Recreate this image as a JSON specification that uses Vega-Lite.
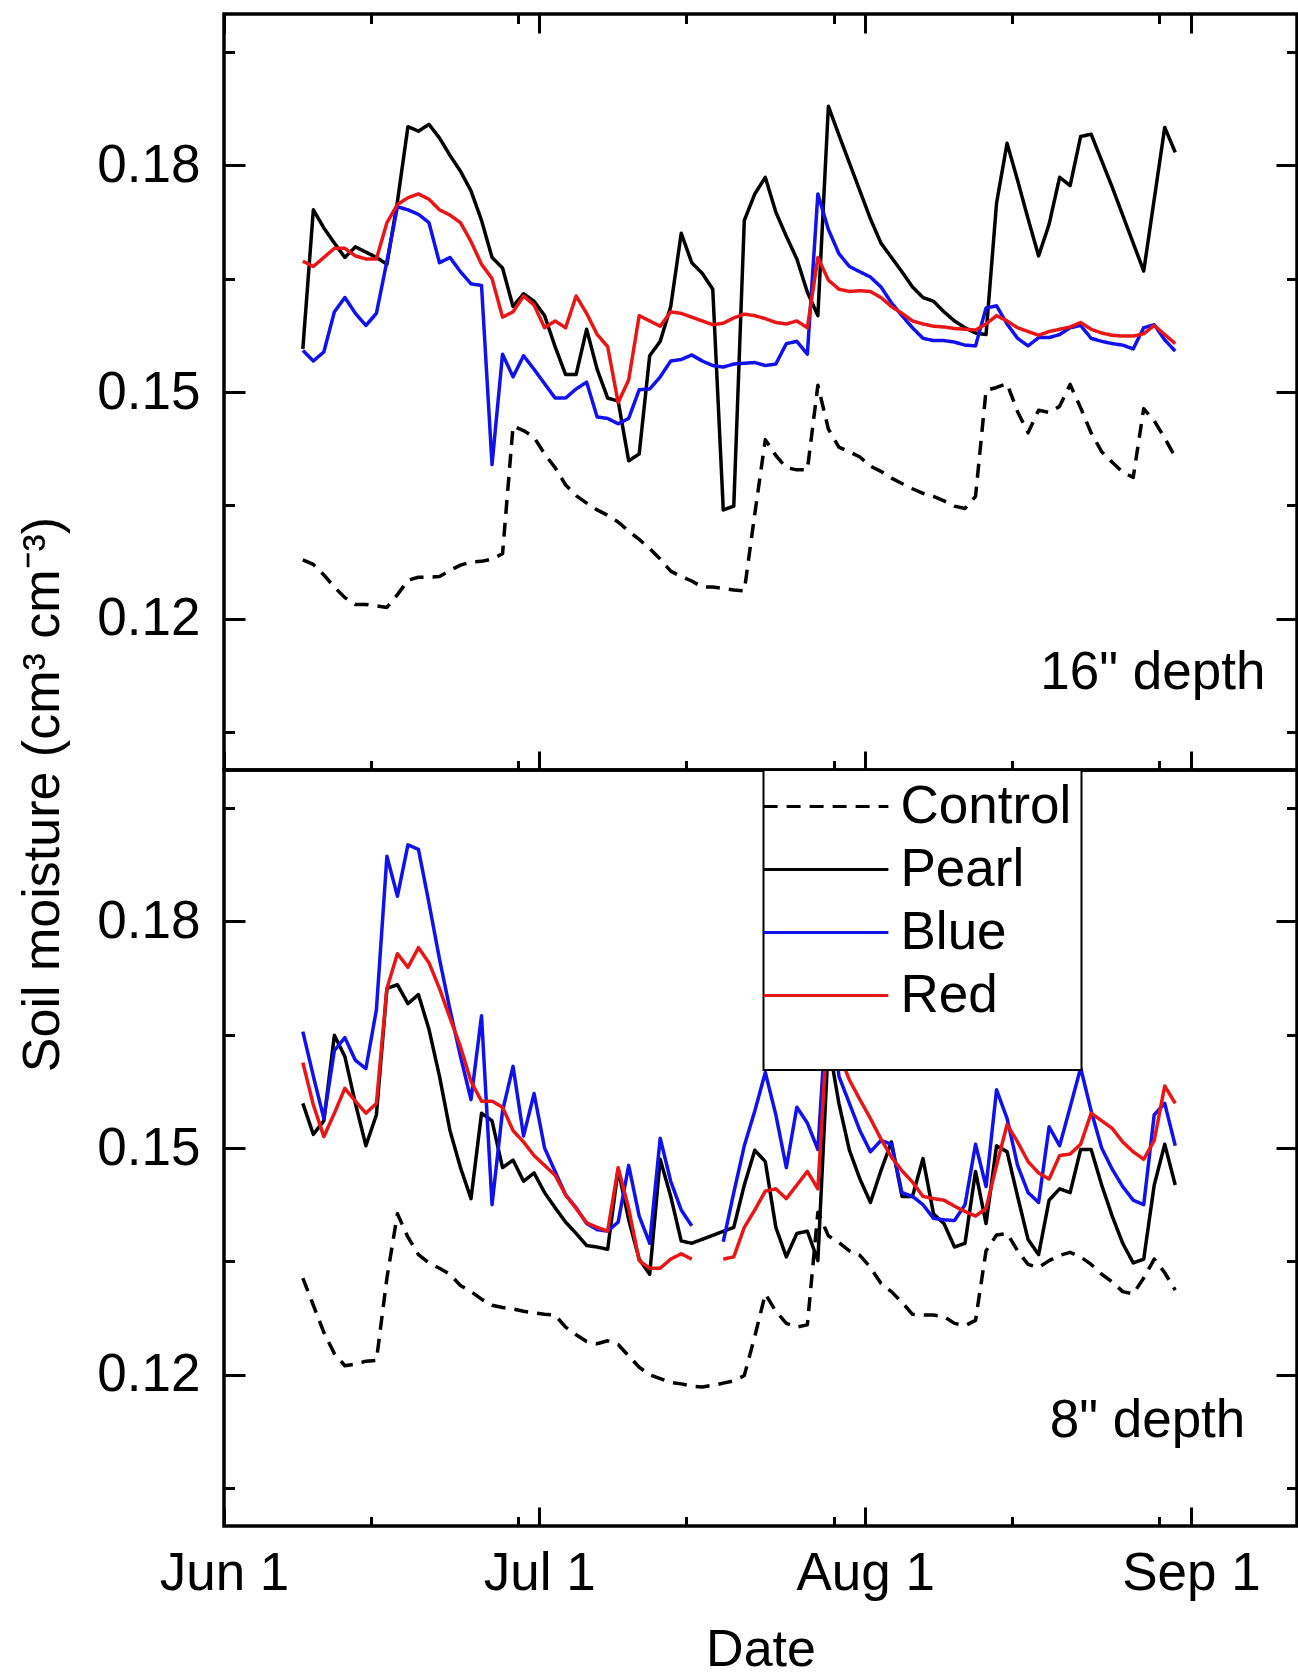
{
"$schema":"https://vega.github.io/schema/vega-lite/v6.json",
"padding":{"left":14,"top":10,"right":0,"bottom":0},
"background":"white",
"spacing":0,
"bounds":"flush",
"config":{
 "font":"Liberation Sans",
 "view":{"stroke":"#000000","strokeWidth":3.5},
 "axis":{"domain":false,"grid":false,"tickColor":"#000000","tickWidth":3,"tickCap":"butt","labelColor":"#000000","titleColor":"#000000","labelFontSize":53,"titleFontSize":52,"titleFontWeight":"normal","labelFlush":false,"labelOverlap":false,"labelBound":false,"labelFont":"Liberation Sans","titleFont":"Liberation Sans"},
 "legend":{"strokeWidth":2}
},
"resolve":{"legend":{"color":"independent","strokeDash":"independent"}},
"datasets":{
"d16":[
{"series":"Control","date":"2019-06-08T12:00","value":0.1278},{"series":"Control","date":"2019-06-09T12:00","value":0.1272},{"series":"Control","date":"2019-06-10T12:00","value":0.1258},{"series":"Control","date":"2019-06-11T12:00","value":0.1242},{"series":"Control","date":"2019-06-12T12:00","value":0.1228},{"series":"Control","date":"2019-06-13T12:00","value":0.1219},{"series":"Control","date":"2019-06-14T12:00","value":0.1219},{"series":"Control","date":"2019-06-15T12:00","value":0.1217},{"series":"Control","date":"2019-06-16T12:00","value":0.1215},{"series":"Control","date":"2019-06-17T12:00","value":0.1232},
{"series":"Control","date":"2019-06-18T12:00","value":0.1251},{"series":"Control","date":"2019-06-19T12:00","value":0.1255},{"series":"Control","date":"2019-06-20T12:00","value":0.1255},{"series":"Control","date":"2019-06-21T12:00","value":0.1256},{"series":"Control","date":"2019-06-22T12:00","value":0.1264},{"series":"Control","date":"2019-06-23T12:00","value":0.1271},{"series":"Control","date":"2019-06-24T12:00","value":0.1275},{"series":"Control","date":"2019-06-25T12:00","value":0.1276},{"series":"Control","date":"2019-06-26T12:00","value":0.1279},{"series":"Control","date":"2019-06-27T12:00","value":0.1286},
{"series":"Control","date":"2019-06-28T12:00","value":0.1455},{"series":"Control","date":"2019-06-29T12:00","value":0.1449},{"series":"Control","date":"2019-06-30T12:00","value":0.1440},{"series":"Control","date":"2019-07-01T12:00","value":0.1418},{"series":"Control","date":"2019-07-02T12:00","value":0.1400},{"series":"Control","date":"2019-07-03T12:00","value":0.1377},{"series":"Control","date":"2019-07-04T12:00","value":0.1363},{"series":"Control","date":"2019-07-05T12:00","value":0.1353},{"series":"Control","date":"2019-07-06T12:00","value":0.1344},{"series":"Control","date":"2019-07-07T12:00","value":0.1337},
{"series":"Control","date":"2019-07-08T12:00","value":0.1328},{"series":"Control","date":"2019-07-09T12:00","value":0.1316},{"series":"Control","date":"2019-07-10T12:00","value":0.1305},{"series":"Control","date":"2019-07-11T12:00","value":0.1293},{"series":"Control","date":"2019-07-12T12:00","value":0.1279},{"series":"Control","date":"2019-07-13T12:00","value":0.1263},{"series":"Control","date":"2019-07-14T12:00","value":0.1256},{"series":"Control","date":"2019-07-15T12:00","value":0.1250},{"series":"Control","date":"2019-07-16T12:00","value":0.1242},{"series":"Control","date":"2019-07-17T12:00","value":0.1242},
{"series":"Control","date":"2019-07-18T12:00","value":0.1240},{"series":"Control","date":"2019-07-19T12:00","value":0.1238},{"series":"Control","date":"2019-07-20T12:00","value":0.1237},{"series":"Control","date":"2019-07-21T12:00","value":0.1339},{"series":"Control","date":"2019-07-22T12:00","value":0.1437},{"series":"Control","date":"2019-07-23T12:00","value":0.1416},{"series":"Control","date":"2019-07-24T12:00","value":0.1400},{"series":"Control","date":"2019-07-25T12:00","value":0.1397},{"series":"Control","date":"2019-07-26T12:00","value":0.1397},{"series":"Control","date":"2019-07-27T12:00","value":0.1509},
{"series":"Control","date":"2019-07-28T12:00","value":0.1451},{"series":"Control","date":"2019-07-29T12:00","value":0.1427},{"series":"Control","date":"2019-07-30T12:00","value":0.1421},{"series":"Control","date":"2019-07-31T12:00","value":0.1414},{"series":"Control","date":"2019-08-01T12:00","value":0.1402},{"series":"Control","date":"2019-08-02T12:00","value":0.1395},{"series":"Control","date":"2019-08-03T12:00","value":0.1386},{"series":"Control","date":"2019-08-04T12:00","value":0.1379},{"series":"Control","date":"2019-08-05T12:00","value":0.1372},{"series":"Control","date":"2019-08-06T12:00","value":0.1366},
{"series":"Control","date":"2019-08-07T12:00","value":0.1362},{"series":"Control","date":"2019-08-08T12:00","value":0.1356},{"series":"Control","date":"2019-08-09T12:00","value":0.1349},{"series":"Control","date":"2019-08-10T12:00","value":0.1346},{"series":"Control","date":"2019-08-11T12:00","value":0.1362},{"series":"Control","date":"2019-08-12T12:00","value":0.1502},{"series":"Control","date":"2019-08-13T12:00","value":0.1506},{"series":"Control","date":"2019-08-14T12:00","value":0.1511},{"series":"Control","date":"2019-08-15T12:00","value":0.1474},{"series":"Control","date":"2019-08-16T12:00","value":0.1446},
{"series":"Control","date":"2019-08-17T12:00","value":0.1476},{"series":"Control","date":"2019-08-18T12:00","value":0.1473},{"series":"Control","date":"2019-08-19T12:00","value":0.1481},{"series":"Control","date":"2019-08-20T12:00","value":0.1510},{"series":"Control","date":"2019-08-21T12:00","value":0.1479},{"series":"Control","date":"2019-08-22T12:00","value":0.1446},{"series":"Control","date":"2019-08-23T12:00","value":0.1421},{"series":"Control","date":"2019-08-24T12:00","value":0.1407},{"series":"Control","date":"2019-08-25T12:00","value":0.1394},{"series":"Control","date":"2019-08-26T12:00","value":0.1387},
{"series":"Control","date":"2019-08-27T12:00","value":0.1478},{"series":"Control","date":"2019-08-28T12:00","value":0.1462},{"series":"Control","date":"2019-08-29T12:00","value":0.1439},{"series":"Control","date":"2019-08-30T12:00","value":0.1414},
{"series":"Pearl","date":"2019-06-08T12:00","value":0.1557},{"series":"Pearl","date":"2019-06-09T12:00","value":0.1741},{"series":"Pearl","date":"2019-06-10T12:00","value":0.1717},{"series":"Pearl","date":"2019-06-11T12:00","value":0.1697},{"series":"Pearl","date":"2019-06-12T12:00","value":0.1678},{"series":"Pearl","date":"2019-06-13T12:00","value":0.1692},{"series":"Pearl","date":"2019-06-14T12:00","value":0.1685},{"series":"Pearl","date":"2019-06-15T12:00","value":0.1678},{"series":"Pearl","date":"2019-06-16T12:00","value":0.1669},{"series":"Pearl","date":"2019-06-17T12:00","value":0.1752},
{"series":"Pearl","date":"2019-06-18T12:00","value":0.1851},{"series":"Pearl","date":"2019-06-19T12:00","value":0.1845},{"series":"Pearl","date":"2019-06-20T12:00","value":0.1854},{"series":"Pearl","date":"2019-06-21T12:00","value":0.1836},{"series":"Pearl","date":"2019-06-22T12:00","value":0.1813},{"series":"Pearl","date":"2019-06-23T12:00","value":0.1792},{"series":"Pearl","date":"2019-06-24T12:00","value":0.1766},{"series":"Pearl","date":"2019-06-25T12:00","value":0.1727},{"series":"Pearl","date":"2019-06-26T12:00","value":0.1678},{"series":"Pearl","date":"2019-06-27T12:00","value":0.1664},
{"series":"Pearl","date":"2019-06-28T12:00","value":0.1613},{"series":"Pearl","date":"2019-06-29T12:00","value":0.1630},{"series":"Pearl","date":"2019-06-30T12:00","value":0.1620},{"series":"Pearl","date":"2019-07-01T12:00","value":0.1601},{"series":"Pearl","date":"2019-07-02T12:00","value":0.1560},{"series":"Pearl","date":"2019-07-03T12:00","value":0.1523},{"series":"Pearl","date":"2019-07-04T12:00","value":0.1523},{"series":"Pearl","date":"2019-07-05T12:00","value":0.1583},{"series":"Pearl","date":"2019-07-06T12:00","value":0.1530},{"series":"Pearl","date":"2019-07-07T12:00","value":0.1492},
{"series":"Pearl","date":"2019-07-08T12:00","value":0.1488},{"series":"Pearl","date":"2019-07-09T12:00","value":0.1409},{"series":"Pearl","date":"2019-07-10T12:00","value":0.1418},{"series":"Pearl","date":"2019-07-11T12:00","value":0.1548},{"series":"Pearl","date":"2019-07-12T12:00","value":0.1567},{"series":"Pearl","date":"2019-07-13T12:00","value":0.1613},{"series":"Pearl","date":"2019-07-14T12:00","value":0.1710},{"series":"Pearl","date":"2019-07-15T12:00","value":0.1671},{"series":"Pearl","date":"2019-07-16T12:00","value":0.1657},{"series":"Pearl","date":"2019-07-17T12:00","value":0.1636},
{"series":"Pearl","date":"2019-07-18T12:00","value":0.1344},{"series":"Pearl","date":"2019-07-19T12:00","value":0.1349},{"series":"Pearl","date":"2019-07-20T12:00","value":0.1727},{"series":"Pearl","date":"2019-07-21T12:00","value":0.1762},{"series":"Pearl","date":"2019-07-22T12:00","value":0.1784},{"series":"Pearl","date":"2019-07-23T12:00","value":0.1738},{"series":"Pearl","date":"2019-07-24T12:00","value":0.1706},{"series":"Pearl","date":"2019-07-25T12:00","value":0.1676},{"series":"Pearl","date":"2019-07-26T12:00","value":0.1632},{"series":"Pearl","date":"2019-07-27T12:00","value":0.1601},
{"series":"Pearl","date":"2019-07-28T12:00","value":0.1878},{"series":"Pearl","date":"2019-07-29T12:00","value":0.1840},{"series":"Pearl","date":"2019-07-30T12:00","value":0.1803},{"series":"Pearl","date":"2019-07-31T12:00","value":0.1766},{"series":"Pearl","date":"2019-08-01T12:00","value":0.1729},{"series":"Pearl","date":"2019-08-02T12:00","value":0.1697},{"series":"Pearl","date":"2019-08-03T12:00","value":0.1678},{"series":"Pearl","date":"2019-08-04T12:00","value":0.1659},{"series":"Pearl","date":"2019-08-05T12:00","value":0.1639},{"series":"Pearl","date":"2019-08-06T12:00","value":0.1625},
{"series":"Pearl","date":"2019-08-07T12:00","value":0.1620},{"series":"Pearl","date":"2019-08-08T12:00","value":0.1606},{"series":"Pearl","date":"2019-08-09T12:00","value":0.1594},{"series":"Pearl","date":"2019-08-10T12:00","value":0.1585},{"series":"Pearl","date":"2019-08-11T12:00","value":0.1578},{"series":"Pearl","date":"2019-08-12T12:00","value":0.1576},{"series":"Pearl","date":"2019-08-13T12:00","value":0.1750},{"series":"Pearl","date":"2019-08-14T12:00","value":0.1829},{"series":"Pearl","date":"2019-08-15T12:00","value":0.1780},{"series":"Pearl","date":"2019-08-16T12:00","value":0.1729},
{"series":"Pearl","date":"2019-08-17T12:00","value":0.1680},{"series":"Pearl","date":"2019-08-18T12:00","value":0.1722},{"series":"Pearl","date":"2019-08-19T12:00","value":0.1784},{"series":"Pearl","date":"2019-08-20T12:00","value":0.1773},{"series":"Pearl","date":"2019-08-21T12:00","value":0.1838},{"series":"Pearl","date":"2019-08-22T12:00","value":0.1841},{"series":"Pearl","date":"2019-08-23T12:00","value":0.1806},{"series":"Pearl","date":"2019-08-24T12:00","value":0.1771},{"series":"Pearl","date":"2019-08-25T12:00","value":0.1734},{"series":"Pearl","date":"2019-08-26T12:00","value":0.1697},
{"series":"Pearl","date":"2019-08-27T12:00","value":0.1660},{"series":"Pearl","date":"2019-08-28T12:00","value":0.1755},{"series":"Pearl","date":"2019-08-29T12:00","value":0.1850},{"series":"Pearl","date":"2019-08-30T12:00","value":0.1817},
{"series":"Blue","date":"2019-06-08T12:00","value":0.1555},{"series":"Blue","date":"2019-06-09T12:00","value":0.1541},{"series":"Blue","date":"2019-06-10T12:00","value":0.1553},{"series":"Blue","date":"2019-06-11T12:00","value":0.1606},{"series":"Blue","date":"2019-06-12T12:00","value":0.1625},{"series":"Blue","date":"2019-06-13T12:00","value":0.1604},{"series":"Blue","date":"2019-06-14T12:00","value":0.1588},{"series":"Blue","date":"2019-06-15T12:00","value":0.1604},{"series":"Blue","date":"2019-06-16T12:00","value":0.1673},{"series":"Blue","date":"2019-06-17T12:00","value":0.1745},
{"series":"Blue","date":"2019-06-18T12:00","value":0.1741},{"series":"Blue","date":"2019-06-19T12:00","value":0.1735},{"series":"Blue","date":"2019-06-20T12:00","value":0.1724},{"series":"Blue","date":"2019-06-21T12:00","value":0.1671},{"series":"Blue","date":"2019-06-22T12:00","value":0.1678},{"series":"Blue","date":"2019-06-23T12:00","value":0.1659},{"series":"Blue","date":"2019-06-24T12:00","value":0.1643},{"series":"Blue","date":"2019-06-25T12:00","value":0.1641},{"series":"Blue","date":"2019-06-26T12:00","value":0.1404},{"series":"Blue","date":"2019-06-27T12:00","value":0.1550},
{"series":"Blue","date":"2019-06-28T12:00","value":0.1520},{"series":"Blue","date":"2019-06-29T12:00","value":0.1548},{"series":"Blue","date":"2019-06-30T12:00","value":0.1530},{"series":"Blue","date":"2019-07-01T12:00","value":0.1511},{"series":"Blue","date":"2019-07-02T12:00","value":0.1492},{"series":"Blue","date":"2019-07-03T12:00","value":0.1492},{"series":"Blue","date":"2019-07-04T12:00","value":0.1504},{"series":"Blue","date":"2019-07-05T12:00","value":0.1513},{"series":"Blue","date":"2019-07-06T12:00","value":0.1467},{"series":"Blue","date":"2019-07-07T12:00","value":0.1465},
{"series":"Blue","date":"2019-07-08T12:00","value":0.1458},{"series":"Blue","date":"2019-07-09T12:00","value":0.1465},{"series":"Blue","date":"2019-07-10T12:00","value":0.1503},{"series":"Blue","date":"2019-07-11T12:00","value":0.1504},{"series":"Blue","date":"2019-07-12T12:00","value":0.1520},{"series":"Blue","date":"2019-07-13T12:00","value":0.1541},{"series":"Blue","date":"2019-07-14T12:00","value":0.1543},{"series":"Blue","date":"2019-07-15T12:00","value":0.1549},{"series":"Blue","date":"2019-07-16T12:00","value":0.1541},{"series":"Blue","date":"2019-07-17T12:00","value":0.1535},
{"series":"Blue","date":"2019-07-18T12:00","value":0.1533},{"series":"Blue","date":"2019-07-19T12:00","value":0.1537},{"series":"Blue","date":"2019-07-20T12:00","value":0.1538},{"series":"Blue","date":"2019-07-21T12:00","value":0.1539},{"series":"Blue","date":"2019-07-22T12:00","value":0.1535},{"series":"Blue","date":"2019-07-23T12:00","value":0.1537},{"series":"Blue","date":"2019-07-24T12:00","value":0.1564},{"series":"Blue","date":"2019-07-25T12:00","value":0.1567},{"series":"Blue","date":"2019-07-26T12:00","value":0.1550},{"series":"Blue","date":"2019-07-27T12:00","value":0.1762},
{"series":"Blue","date":"2019-07-28T12:00","value":0.1715},{"series":"Blue","date":"2019-07-29T12:00","value":0.1683},{"series":"Blue","date":"2019-07-30T12:00","value":0.1666},{"series":"Blue","date":"2019-07-31T12:00","value":0.1659},{"series":"Blue","date":"2019-08-01T12:00","value":0.1652},{"series":"Blue","date":"2019-08-02T12:00","value":0.1639},{"series":"Blue","date":"2019-08-03T12:00","value":0.1618},{"series":"Blue","date":"2019-08-04T12:00","value":0.1601},{"series":"Blue","date":"2019-08-05T12:00","value":0.1585},{"series":"Blue","date":"2019-08-06T12:00","value":0.1571},
{"series":"Blue","date":"2019-08-07T12:00","value":0.1568},{"series":"Blue","date":"2019-08-08T12:00","value":0.1568},{"series":"Blue","date":"2019-08-09T12:00","value":0.1566},{"series":"Blue","date":"2019-08-10T12:00","value":0.1562},{"series":"Blue","date":"2019-08-11T12:00","value":0.1561},{"series":"Blue","date":"2019-08-12T12:00","value":0.1611},{"series":"Blue","date":"2019-08-13T12:00","value":0.1614},{"series":"Blue","date":"2019-08-14T12:00","value":0.1590},{"series":"Blue","date":"2019-08-15T12:00","value":0.1571},{"series":"Blue","date":"2019-08-16T12:00","value":0.1561},
{"series":"Blue","date":"2019-08-17T12:00","value":0.1572},{"series":"Blue","date":"2019-08-18T12:00","value":0.1572},{"series":"Blue","date":"2019-08-19T12:00","value":0.1576},{"series":"Blue","date":"2019-08-20T12:00","value":0.1585},{"series":"Blue","date":"2019-08-21T12:00","value":0.1588},{"series":"Blue","date":"2019-08-22T12:00","value":0.1571},{"series":"Blue","date":"2019-08-23T12:00","value":0.1567},{"series":"Blue","date":"2019-08-24T12:00","value":0.1564},{"series":"Blue","date":"2019-08-25T12:00","value":0.1562},{"series":"Blue","date":"2019-08-26T12:00","value":0.1557},
{"series":"Blue","date":"2019-08-27T12:00","value":0.1585},{"series":"Blue","date":"2019-08-28T12:00","value":0.1589},{"series":"Blue","date":"2019-08-29T12:00","value":0.1569},{"series":"Blue","date":"2019-08-30T12:00","value":0.1554},
{"series":"Red","date":"2019-06-08T12:00","value":0.1673},{"series":"Red","date":"2019-06-09T12:00","value":0.1666},{"series":"Red","date":"2019-06-10T12:00","value":0.1678},{"series":"Red","date":"2019-06-11T12:00","value":0.1690},{"series":"Red","date":"2019-06-12T12:00","value":0.1690},{"series":"Red","date":"2019-06-13T12:00","value":0.1680},{"series":"Red","date":"2019-06-14T12:00","value":0.1676},{"series":"Red","date":"2019-06-15T12:00","value":0.1676},{"series":"Red","date":"2019-06-16T12:00","value":0.1724},{"series":"Red","date":"2019-06-17T12:00","value":0.1748},
{"series":"Red","date":"2019-06-18T12:00","value":0.1757},{"series":"Red","date":"2019-06-19T12:00","value":0.1762},{"series":"Red","date":"2019-06-20T12:00","value":0.1755},{"series":"Red","date":"2019-06-21T12:00","value":0.1741},{"series":"Red","date":"2019-06-22T12:00","value":0.1734},{"series":"Red","date":"2019-06-23T12:00","value":0.1724},{"series":"Red","date":"2019-06-24T12:00","value":0.1699},{"series":"Red","date":"2019-06-25T12:00","value":0.1669},{"series":"Red","date":"2019-06-26T12:00","value":0.1650},{"series":"Red","date":"2019-06-27T12:00","value":0.1599},
{"series":"Red","date":"2019-06-28T12:00","value":0.1606},{"series":"Red","date":"2019-06-29T12:00","value":0.1627},{"series":"Red","date":"2019-06-30T12:00","value":0.1615},{"series":"Red","date":"2019-07-01T12:00","value":0.1585},{"series":"Red","date":"2019-07-02T12:00","value":0.1594},{"series":"Red","date":"2019-07-03T12:00","value":0.1585},{"series":"Red","date":"2019-07-04T12:00","value":0.1627},{"series":"Red","date":"2019-07-05T12:00","value":0.1604},{"series":"Red","date":"2019-07-06T12:00","value":0.1576},{"series":"Red","date":"2019-07-07T12:00","value":0.1560},
{"series":"Red","date":"2019-07-08T12:00","value":0.1486},{"series":"Red","date":"2019-07-09T12:00","value":0.1516},{"series":"Red","date":"2019-07-10T12:00","value":0.1601},{"series":"Red","date":"2019-07-11T12:00","value":0.1594},{"series":"Red","date":"2019-07-12T12:00","value":0.1587},{"series":"Red","date":"2019-07-13T12:00","value":0.1606},{"series":"Red","date":"2019-07-14T12:00","value":0.1604},{"series":"Red","date":"2019-07-15T12:00","value":0.1599},{"series":"Red","date":"2019-07-16T12:00","value":0.1594},{"series":"Red","date":"2019-07-17T12:00","value":0.1589},
{"series":"Red","date":"2019-07-18T12:00","value":0.1591},{"series":"Red","date":"2019-07-19T12:00","value":0.1598},{"series":"Red","date":"2019-07-20T12:00","value":0.1603},{"series":"Red","date":"2019-07-21T12:00","value":0.1601},{"series":"Red","date":"2019-07-22T12:00","value":0.1597},{"series":"Red","date":"2019-07-23T12:00","value":0.1592},{"series":"Red","date":"2019-07-24T12:00","value":0.1590},{"series":"Red","date":"2019-07-25T12:00","value":0.1594},{"series":"Red","date":"2019-07-26T12:00","value":0.1585},{"series":"Red","date":"2019-07-27T12:00","value":0.1678},
{"series":"Red","date":"2019-07-28T12:00","value":0.1648},{"series":"Red","date":"2019-07-29T12:00","value":0.1636},{"series":"Red","date":"2019-07-30T12:00","value":0.1633},{"series":"Red","date":"2019-07-31T12:00","value":0.1634},{"series":"Red","date":"2019-08-01T12:00","value":0.1633},{"series":"Red","date":"2019-08-02T12:00","value":0.1625},{"series":"Red","date":"2019-08-03T12:00","value":0.1613},{"series":"Red","date":"2019-08-04T12:00","value":0.1604},{"series":"Red","date":"2019-08-05T12:00","value":0.1594},{"series":"Red","date":"2019-08-06T12:00","value":0.1590},
{"series":"Red","date":"2019-08-07T12:00","value":0.1587},{"series":"Red","date":"2019-08-08T12:00","value":0.1586},{"series":"Red","date":"2019-08-09T12:00","value":0.1584},{"series":"Red","date":"2019-08-10T12:00","value":0.1583},{"series":"Red","date":"2019-08-11T12:00","value":0.1582},{"series":"Red","date":"2019-08-12T12:00","value":0.1590},{"series":"Red","date":"2019-08-13T12:00","value":0.1601},{"series":"Red","date":"2019-08-14T12:00","value":0.1594},{"series":"Red","date":"2019-08-15T12:00","value":0.1585},{"series":"Red","date":"2019-08-16T12:00","value":0.1580},
{"series":"Red","date":"2019-08-17T12:00","value":0.1575},{"series":"Red","date":"2019-08-18T12:00","value":0.1580},{"series":"Red","date":"2019-08-19T12:00","value":0.1583},{"series":"Red","date":"2019-08-20T12:00","value":0.1586},{"series":"Red","date":"2019-08-21T12:00","value":0.1592},{"series":"Red","date":"2019-08-22T12:00","value":0.1583},{"series":"Red","date":"2019-08-23T12:00","value":0.1578},{"series":"Red","date":"2019-08-24T12:00","value":0.1575},{"series":"Red","date":"2019-08-25T12:00","value":0.1574},{"series":"Red","date":"2019-08-26T12:00","value":0.1574},
{"series":"Red","date":"2019-08-27T12:00","value":0.1577},{"series":"Red","date":"2019-08-28T12:00","value":0.1588},{"series":"Red","date":"2019-08-29T12:00","value":0.1576},{"series":"Red","date":"2019-08-30T12:00","value":0.1564}
],
"d8":[
{"series":"Control","date":"2019-06-08T12:00","value":0.1328},{"series":"Control","date":"2019-06-09T12:00","value":0.1292},{"series":"Control","date":"2019-06-10T12:00","value":0.1256},{"series":"Control","date":"2019-06-11T12:00","value":0.1228},{"series":"Control","date":"2019-06-12T12:00","value":0.1212},{"series":"Control","date":"2019-06-13T12:00","value":0.1214},{"series":"Control","date":"2019-06-14T12:00","value":0.1218},{"series":"Control","date":"2019-06-15T12:00","value":0.1219},{"series":"Control","date":"2019-06-16T12:00","value":0.1328},{"series":"Control","date":"2019-06-17T12:00","value":0.1413},
{"series":"Control","date":"2019-06-18T12:00","value":0.1382},{"series":"Control","date":"2019-06-19T12:00","value":0.1359},{"series":"Control","date":"2019-06-20T12:00","value":0.1348},{"series":"Control","date":"2019-06-21T12:00","value":0.1341},{"series":"Control","date":"2019-06-22T12:00","value":0.1333},{"series":"Control","date":"2019-06-23T12:00","value":0.1318},{"series":"Control","date":"2019-06-24T12:00","value":0.1310},{"series":"Control","date":"2019-06-25T12:00","value":0.1300},{"series":"Control","date":"2019-06-26T12:00","value":0.1292},{"series":"Control","date":"2019-06-27T12:00","value":0.1289},
{"series":"Control","date":"2019-06-28T12:00","value":0.1287},{"series":"Control","date":"2019-06-29T12:00","value":0.1284},{"series":"Control","date":"2019-06-30T12:00","value":0.1282},{"series":"Control","date":"2019-07-01T12:00","value":0.1280},{"series":"Control","date":"2019-07-02T12:00","value":0.1279},{"series":"Control","date":"2019-07-03T12:00","value":0.1263},{"series":"Control","date":"2019-07-04T12:00","value":0.1253},{"series":"Control","date":"2019-07-05T12:00","value":0.1244},{"series":"Control","date":"2019-07-06T12:00","value":0.1241},{"series":"Control","date":"2019-07-07T12:00","value":0.1245},
{"series":"Control","date":"2019-07-08T12:00","value":0.1240},{"series":"Control","date":"2019-07-09T12:00","value":0.1225},{"series":"Control","date":"2019-07-10T12:00","value":0.1210},{"series":"Control","date":"2019-07-11T12:00","value":0.1200},{"series":"Control","date":"2019-07-12T12:00","value":0.1195},{"series":"Control","date":"2019-07-13T12:00","value":0.1190},{"series":"Control","date":"2019-07-14T12:00","value":0.1188},{"series":"Control","date":"2019-07-15T12:00","value":0.1185},{"series":"Control","date":"2019-07-16T12:00","value":0.1184},{"series":"Control","date":"2019-07-17T12:00","value":0.1186},
{"series":"Control","date":"2019-07-18T12:00","value":0.1189},{"series":"Control","date":"2019-07-19T12:00","value":0.1192},{"series":"Control","date":"2019-07-20T12:00","value":0.1199},{"series":"Control","date":"2019-07-21T12:00","value":0.1251},{"series":"Control","date":"2019-07-22T12:00","value":0.1307},{"series":"Control","date":"2019-07-23T12:00","value":0.1284},{"series":"Control","date":"2019-07-24T12:00","value":0.1268},{"series":"Control","date":"2019-07-25T12:00","value":0.1263},{"series":"Control","date":"2019-07-26T12:00","value":0.1266},{"series":"Control","date":"2019-07-27T12:00","value":0.1415},
{"series":"Control","date":"2019-07-28T12:00","value":0.1384},{"series":"Control","date":"2019-07-29T12:00","value":0.1375},{"series":"Control","date":"2019-07-30T12:00","value":0.1364},{"series":"Control","date":"2019-07-31T12:00","value":0.1358},{"series":"Control","date":"2019-08-01T12:00","value":0.1342},{"series":"Control","date":"2019-08-02T12:00","value":0.1321},{"series":"Control","date":"2019-08-03T12:00","value":0.1310},{"series":"Control","date":"2019-08-04T12:00","value":0.1296},{"series":"Control","date":"2019-08-05T12:00","value":0.1280},{"series":"Control","date":"2019-08-06T12:00","value":0.1279},
{"series":"Control","date":"2019-08-07T12:00","value":0.1279},{"series":"Control","date":"2019-08-08T12:00","value":0.1277},{"series":"Control","date":"2019-08-09T12:00","value":0.1268},{"series":"Control","date":"2019-08-10T12:00","value":0.1265},{"series":"Control","date":"2019-08-11T12:00","value":0.1272},{"series":"Control","date":"2019-08-12T12:00","value":0.1364},{"series":"Control","date":"2019-08-13T12:00","value":0.1385},{"series":"Control","date":"2019-08-14T12:00","value":0.1387},{"series":"Control","date":"2019-08-15T12:00","value":0.1364},{"series":"Control","date":"2019-08-16T12:00","value":0.1346},
{"series":"Control","date":"2019-08-17T12:00","value":0.1342},{"series":"Control","date":"2019-08-18T12:00","value":0.1351},{"series":"Control","date":"2019-08-19T12:00","value":0.1358},{"series":"Control","date":"2019-08-20T12:00","value":0.1362},{"series":"Control","date":"2019-08-21T12:00","value":0.1356},{"series":"Control","date":"2019-08-22T12:00","value":0.1346},{"series":"Control","date":"2019-08-23T12:00","value":0.1333},{"series":"Control","date":"2019-08-24T12:00","value":0.1323},{"series":"Control","date":"2019-08-25T12:00","value":0.1310},{"series":"Control","date":"2019-08-26T12:00","value":0.1307},
{"series":"Control","date":"2019-08-27T12:00","value":0.1328},{"series":"Control","date":"2019-08-28T12:00","value":0.1353},{"series":"Control","date":"2019-08-29T12:00","value":0.1335},{"series":"Control","date":"2019-08-30T12:00","value":0.1312},
{"series":"Pearl","date":"2019-06-08T12:00","value":0.1559},{"series":"Pearl","date":"2019-06-09T12:00","value":0.1518},{"series":"Pearl","date":"2019-06-10T12:00","value":0.1536},{"series":"Pearl","date":"2019-06-11T12:00","value":0.1649},{"series":"Pearl","date":"2019-06-12T12:00","value":0.1621},{"series":"Pearl","date":"2019-06-13T12:00","value":0.1559},{"series":"Pearl","date":"2019-06-14T12:00","value":0.1503},{"series":"Pearl","date":"2019-06-15T12:00","value":0.1544},{"series":"Pearl","date":"2019-06-16T12:00","value":0.1711},{"series":"Pearl","date":"2019-06-17T12:00","value":0.1716},
{"series":"Pearl","date":"2019-06-18T12:00","value":0.1691},{"series":"Pearl","date":"2019-06-19T12:00","value":0.1703},{"series":"Pearl","date":"2019-06-20T12:00","value":0.1657},{"series":"Pearl","date":"2019-06-21T12:00","value":0.1595},{"series":"Pearl","date":"2019-06-22T12:00","value":0.1523},{"series":"Pearl","date":"2019-06-23T12:00","value":0.1474},{"series":"Pearl","date":"2019-06-24T12:00","value":0.1433},{"series":"Pearl","date":"2019-06-25T12:00","value":0.1546},{"series":"Pearl","date":"2019-06-26T12:00","value":0.1536},{"series":"Pearl","date":"2019-06-27T12:00","value":0.1474},
{"series":"Pearl","date":"2019-06-28T12:00","value":0.1484},{"series":"Pearl","date":"2019-06-29T12:00","value":0.1456},{"series":"Pearl","date":"2019-06-30T12:00","value":0.1467},{"series":"Pearl","date":"2019-07-01T12:00","value":0.1441},{"series":"Pearl","date":"2019-07-02T12:00","value":0.1421},{"series":"Pearl","date":"2019-07-03T12:00","value":0.1402},{"series":"Pearl","date":"2019-07-04T12:00","value":0.1387},{"series":"Pearl","date":"2019-07-05T12:00","value":0.1371},{"series":"Pearl","date":"2019-07-06T12:00","value":0.1369},{"series":"Pearl","date":"2019-07-07T12:00","value":0.1366},
{"series":"Pearl","date":"2019-07-08T12:00","value":0.1472},{"series":"Pearl","date":"2019-07-09T12:00","value":0.1405},{"series":"Pearl","date":"2019-07-10T12:00","value":0.1353},{"series":"Pearl","date":"2019-07-11T12:00","value":0.1333},{"series":"Pearl","date":"2019-07-12T12:00","value":0.1485},{"series":"Pearl","date":"2019-07-13T12:00","value":0.1436},{"series":"Pearl","date":"2019-07-14T12:00","value":0.1377},{"series":"Pearl","date":"2019-07-15T12:00","value":0.1374},
{"series":"Pearl","date":"2019-07-19T12:00","value":0.1395},{"series":"Pearl","date":"2019-07-20T12:00","value":0.1451},{"series":"Pearl","date":"2019-07-21T12:00","value":0.1497},{"series":"Pearl","date":"2019-07-22T12:00","value":0.1482},{"series":"Pearl","date":"2019-07-23T12:00","value":0.1395},{"series":"Pearl","date":"2019-07-24T12:00","value":0.1356},{"series":"Pearl","date":"2019-07-25T12:00","value":0.1387},{"series":"Pearl","date":"2019-07-26T12:00","value":0.1390},{"series":"Pearl","date":"2019-07-27T12:00","value":0.1351},
{"series":"Pearl","date":"2019-07-28T12:00","value":0.1640},{"series":"Pearl","date":"2019-07-29T12:00","value":0.1559},{"series":"Pearl","date":"2019-07-30T12:00","value":0.1497},{"series":"Pearl","date":"2019-07-31T12:00","value":0.1459},{"series":"Pearl","date":"2019-08-01T12:00","value":0.1428},{"series":"Pearl","date":"2019-08-02T12:00","value":0.1470},{"series":"Pearl","date":"2019-08-03T12:00","value":0.1508},{"series":"Pearl","date":"2019-08-04T12:00","value":0.1436},{"series":"Pearl","date":"2019-08-05T12:00","value":0.1436},{"series":"Pearl","date":"2019-08-06T12:00","value":0.1486},
{"series":"Pearl","date":"2019-08-07T12:00","value":0.1413},{"series":"Pearl","date":"2019-08-08T12:00","value":0.1400},{"series":"Pearl","date":"2019-08-09T12:00","value":0.1369},{"series":"Pearl","date":"2019-08-10T12:00","value":0.1374},{"series":"Pearl","date":"2019-08-11T12:00","value":0.1469},{"series":"Pearl","date":"2019-08-12T12:00","value":0.1400},{"series":"Pearl","date":"2019-08-13T12:00","value":0.1503},{"series":"Pearl","date":"2019-08-14T12:00","value":0.1495},{"series":"Pearl","date":"2019-08-15T12:00","value":0.1436},{"series":"Pearl","date":"2019-08-16T12:00","value":0.1379},
{"series":"Pearl","date":"2019-08-17T12:00","value":0.1359},{"series":"Pearl","date":"2019-08-18T12:00","value":0.1431},{"series":"Pearl","date":"2019-08-19T12:00","value":0.1446},{"series":"Pearl","date":"2019-08-20T12:00","value":0.1441},{"series":"Pearl","date":"2019-08-21T12:00","value":0.1498},{"series":"Pearl","date":"2019-08-22T12:00","value":0.1498},{"series":"Pearl","date":"2019-08-23T12:00","value":0.1451},{"series":"Pearl","date":"2019-08-24T12:00","value":0.1410},{"series":"Pearl","date":"2019-08-25T12:00","value":0.1374},{"series":"Pearl","date":"2019-08-26T12:00","value":0.1348},
{"series":"Pearl","date":"2019-08-27T12:00","value":0.1353},{"series":"Pearl","date":"2019-08-28T12:00","value":0.1451},{"series":"Pearl","date":"2019-08-29T12:00","value":0.1505},{"series":"Pearl","date":"2019-08-30T12:00","value":0.1451},
{"series":"Blue","date":"2019-06-08T12:00","value":0.1654},{"series":"Blue","date":"2019-06-09T12:00","value":0.1595},{"series":"Blue","date":"2019-06-10T12:00","value":0.1539},{"series":"Blue","date":"2019-06-11T12:00","value":0.1629},{"series":"Blue","date":"2019-06-12T12:00","value":0.1646},{"series":"Blue","date":"2019-06-13T12:00","value":0.1616},{"series":"Blue","date":"2019-06-14T12:00","value":0.1605},{"series":"Blue","date":"2019-06-15T12:00","value":0.1683},{"series":"Blue","date":"2019-06-16T12:00","value":0.1886},{"series":"Blue","date":"2019-06-17T12:00","value":0.1833},
{"series":"Blue","date":"2019-06-18T12:00","value":0.1901},{"series":"Blue","date":"2019-06-19T12:00","value":0.1895},{"series":"Blue","date":"2019-06-20T12:00","value":0.1824},{"series":"Blue","date":"2019-06-21T12:00","value":0.1750},{"series":"Blue","date":"2019-06-22T12:00","value":0.1683},{"series":"Blue","date":"2019-06-23T12:00","value":0.1621},{"series":"Blue","date":"2019-06-24T12:00","value":0.1564},{"series":"Blue","date":"2019-06-25T12:00","value":0.1675},{"series":"Blue","date":"2019-06-26T12:00","value":0.1425},{"series":"Blue","date":"2019-06-27T12:00","value":0.1549},
{"series":"Blue","date":"2019-06-28T12:00","value":0.1608},{"series":"Blue","date":"2019-06-29T12:00","value":0.1516},{"series":"Blue","date":"2019-06-30T12:00","value":0.1572},{"series":"Blue","date":"2019-07-01T12:00","value":0.1500},{"series":"Blue","date":"2019-07-02T12:00","value":0.1469},{"series":"Blue","date":"2019-07-03T12:00","value":0.1438},{"series":"Blue","date":"2019-07-04T12:00","value":0.1421},{"series":"Blue","date":"2019-07-05T12:00","value":0.1400},{"series":"Blue","date":"2019-07-06T12:00","value":0.1392},{"series":"Blue","date":"2019-07-07T12:00","value":0.1390},
{"series":"Blue","date":"2019-07-08T12:00","value":0.1402},{"series":"Blue","date":"2019-07-09T12:00","value":0.1477},{"series":"Blue","date":"2019-07-10T12:00","value":0.1410},{"series":"Blue","date":"2019-07-11T12:00","value":0.1374},{"series":"Blue","date":"2019-07-12T12:00","value":0.1513},{"series":"Blue","date":"2019-07-13T12:00","value":0.1456},{"series":"Blue","date":"2019-07-14T12:00","value":0.1418},{"series":"Blue","date":"2019-07-15T12:00","value":0.1397},{"series":"Blue","date":"2019-07-16T12:00","value":null},{"series":"Blue","date":"2019-07-17T12:00","value":null},
{"series":"Blue","date":"2019-07-18T12:00","value":0.1376},{"series":"Blue","date":"2019-07-19T12:00","value":0.1441},{"series":"Blue","date":"2019-07-20T12:00","value":0.1503},{"series":"Blue","date":"2019-07-21T12:00","value":0.1549},{"series":"Blue","date":"2019-07-22T12:00","value":0.1600},{"series":"Blue","date":"2019-07-23T12:00","value":0.1544},{"series":"Blue","date":"2019-07-24T12:00","value":0.1474},{"series":"Blue","date":"2019-07-25T12:00","value":0.1554},{"series":"Blue","date":"2019-07-26T12:00","value":0.1533},{"series":"Blue","date":"2019-07-27T12:00","value":0.1498},
{"series":"Blue","date":"2019-07-28T12:00","value":0.1720},{"series":"Blue","date":"2019-07-29T12:00","value":0.1595},{"series":"Blue","date":"2019-07-30T12:00","value":0.1559},{"series":"Blue","date":"2019-07-31T12:00","value":0.1523},{"series":"Blue","date":"2019-08-01T12:00","value":0.1495},{"series":"Blue","date":"2019-08-02T12:00","value":0.1510},{"series":"Blue","date":"2019-08-03T12:00","value":0.1505},{"series":"Blue","date":"2019-08-04T12:00","value":0.1441},{"series":"Blue","date":"2019-08-05T12:00","value":0.1436},{"series":"Blue","date":"2019-08-06T12:00","value":0.1425},
{"series":"Blue","date":"2019-08-07T12:00","value":0.1407},{"series":"Blue","date":"2019-08-08T12:00","value":0.1405},{"series":"Blue","date":"2019-08-09T12:00","value":0.1404},{"series":"Blue","date":"2019-08-10T12:00","value":0.1425},{"series":"Blue","date":"2019-08-11T12:00","value":0.1505},{"series":"Blue","date":"2019-08-12T12:00","value":0.1449},{"series":"Blue","date":"2019-08-13T12:00","value":0.1577},{"series":"Blue","date":"2019-08-14T12:00","value":0.1539},{"series":"Blue","date":"2019-08-15T12:00","value":0.1477},{"series":"Blue","date":"2019-08-16T12:00","value":0.1441},
{"series":"Blue","date":"2019-08-17T12:00","value":0.1428},{"series":"Blue","date":"2019-08-18T12:00","value":0.1528},{"series":"Blue","date":"2019-08-19T12:00","value":0.1503},{"series":"Blue","date":"2019-08-20T12:00","value":0.1554},{"series":"Blue","date":"2019-08-21T12:00","value":0.1606},{"series":"Blue","date":"2019-08-22T12:00","value":0.1549},{"series":"Blue","date":"2019-08-23T12:00","value":0.1500},{"series":"Blue","date":"2019-08-24T12:00","value":0.1472},{"series":"Blue","date":"2019-08-25T12:00","value":0.1449},{"series":"Blue","date":"2019-08-26T12:00","value":0.1431},
{"series":"Blue","date":"2019-08-27T12:00","value":0.1425},{"series":"Blue","date":"2019-08-28T12:00","value":0.1544},{"series":"Blue","date":"2019-08-29T12:00","value":0.1559},{"series":"Blue","date":"2019-08-30T12:00","value":0.1503},
{"series":"Red","date":"2019-06-08T12:00","value":0.1613},{"series":"Red","date":"2019-06-09T12:00","value":0.1557},{"series":"Red","date":"2019-06-10T12:00","value":0.1515},{"series":"Red","date":"2019-06-11T12:00","value":0.1546},{"series":"Red","date":"2019-06-12T12:00","value":0.1579},{"series":"Red","date":"2019-06-13T12:00","value":0.1562},{"series":"Red","date":"2019-06-14T12:00","value":0.1546},{"series":"Red","date":"2019-06-15T12:00","value":0.1559},{"series":"Red","date":"2019-06-16T12:00","value":0.1711},{"series":"Red","date":"2019-06-17T12:00","value":0.1757},
{"series":"Red","date":"2019-06-18T12:00","value":0.1739},{"series":"Red","date":"2019-06-19T12:00","value":0.1765},{"series":"Red","date":"2019-06-20T12:00","value":0.1745},{"series":"Red","date":"2019-06-21T12:00","value":0.1711},{"series":"Red","date":"2019-06-22T12:00","value":0.1672},{"series":"Red","date":"2019-06-23T12:00","value":0.1634},{"series":"Red","date":"2019-06-24T12:00","value":0.1588},{"series":"Red","date":"2019-06-25T12:00","value":0.1562},{"series":"Red","date":"2019-06-26T12:00","value":0.1562},{"series":"Red","date":"2019-06-27T12:00","value":0.1554},
{"series":"Red","date":"2019-06-28T12:00","value":0.1523},{"series":"Red","date":"2019-06-29T12:00","value":0.1508},{"series":"Red","date":"2019-06-30T12:00","value":0.1490},{"series":"Red","date":"2019-07-01T12:00","value":0.1477},{"series":"Red","date":"2019-07-02T12:00","value":0.1464},{"series":"Red","date":"2019-07-03T12:00","value":0.1438},{"series":"Red","date":"2019-07-04T12:00","value":0.1420},{"series":"Red","date":"2019-07-05T12:00","value":0.1401},{"series":"Red","date":"2019-07-06T12:00","value":0.1395},{"series":"Red","date":"2019-07-07T12:00","value":0.1390},
{"series":"Red","date":"2019-07-08T12:00","value":0.1474},{"series":"Red","date":"2019-07-09T12:00","value":0.1420},{"series":"Red","date":"2019-07-10T12:00","value":0.1351},{"series":"Red","date":"2019-07-11T12:00","value":0.1341},{"series":"Red","date":"2019-07-12T12:00","value":0.1341},{"series":"Red","date":"2019-07-13T12:00","value":0.1353},{"series":"Red","date":"2019-07-14T12:00","value":0.1360},{"series":"Red","date":"2019-07-15T12:00","value":0.1353},{"series":"Red","date":"2019-07-16T12:00","value":null},{"series":"Red","date":"2019-07-17T12:00","value":null},
{"series":"Red","date":"2019-07-18T12:00","value":0.1353},{"series":"Red","date":"2019-07-19T12:00","value":0.1356},{"series":"Red","date":"2019-07-20T12:00","value":0.1395},{"series":"Red","date":"2019-07-21T12:00","value":0.1418},{"series":"Red","date":"2019-07-22T12:00","value":0.1443},{"series":"Red","date":"2019-07-23T12:00","value":0.1446},{"series":"Red","date":"2019-07-24T12:00","value":0.1433},{"series":"Red","date":"2019-07-25T12:00","value":0.1451},{"series":"Red","date":"2019-07-26T12:00","value":0.1469},{"series":"Red","date":"2019-07-27T12:00","value":0.1446},
{"series":"Red","date":"2019-07-28T12:00","value":0.1680},{"series":"Red","date":"2019-07-29T12:00","value":0.1625},{"series":"Red","date":"2019-07-30T12:00","value":0.1590},{"series":"Red","date":"2019-07-31T12:00","value":0.1564},{"series":"Red","date":"2019-08-01T12:00","value":0.1539},{"series":"Red","date":"2019-08-02T12:00","value":0.1512},{"series":"Red","date":"2019-08-03T12:00","value":0.1488},{"series":"Red","date":"2019-08-04T12:00","value":0.1470},{"series":"Red","date":"2019-08-05T12:00","value":0.1455},{"series":"Red","date":"2019-08-06T12:00","value":0.1436},
{"series":"Red","date":"2019-08-07T12:00","value":0.1433},{"series":"Red","date":"2019-08-08T12:00","value":0.1431},{"series":"Red","date":"2019-08-09T12:00","value":0.1423},{"series":"Red","date":"2019-08-10T12:00","value":0.1416},{"series":"Red","date":"2019-08-11T12:00","value":0.1410},{"series":"Red","date":"2019-08-12T12:00","value":0.1420},{"series":"Red","date":"2019-08-13T12:00","value":0.1477},{"series":"Red","date":"2019-08-14T12:00","value":0.1531},{"series":"Red","date":"2019-08-15T12:00","value":0.1508},{"series":"Red","date":"2019-08-16T12:00","value":0.1482},
{"series":"Red","date":"2019-08-17T12:00","value":0.1467},{"series":"Red","date":"2019-08-18T12:00","value":0.1459},{"series":"Red","date":"2019-08-19T12:00","value":0.1490},{"series":"Red","date":"2019-08-20T12:00","value":0.1492},{"series":"Red","date":"2019-08-21T12:00","value":0.1505},{"series":"Red","date":"2019-08-22T12:00","value":0.1546},{"series":"Red","date":"2019-08-23T12:00","value":0.1536},{"series":"Red","date":"2019-08-24T12:00","value":0.1526},{"series":"Red","date":"2019-08-25T12:00","value":0.1508},{"series":"Red","date":"2019-08-26T12:00","value":0.1495},
{"series":"Red","date":"2019-08-27T12:00","value":0.1485},{"series":"Red","date":"2019-08-28T12:00","value":0.1510},{"series":"Red","date":"2019-08-29T12:00","value":0.1582},{"series":"Red","date":"2019-08-30T12:00","value":0.1559}
]
},
"vconcat":[
{
 "width":1073,"height":756,
 "resolve":{"axis":{"x":"independent","y":"independent"}},
 "layer":[
  {"data":{"name":"d16"},
   "mark":{"type":"line","strokeWidth":3.5,"strokeJoin":"round","invalid":"break-paths-show-domains"},
   "encoding":{
    "x":{"field":"date","type":"temporal","scale":{"domain":[{"year":2019,"month":6,"date":1},{"year":2019,"month":9,"date":11,"hours":2}],"nice":false},"axis":null},
    "y":{"field":"value","type":"quantitative","scale":{"domain":[0.1,0.2],"nice":false,"zero":false},"axis":{"orient":"left","values":[0.12,0.15,0.18],"format":".2f","ticks":false,"tickSize":0,"labelPadding":24,"title":"Soil moisture (cm³ cm⁻³)","titleX":-166,"titleY":780,"titleAngle":270,"titleAlign":"center","titleBaseline":"alphabetic"}},
    "color":{"field":"series","type":"nominal","scale":{"domain":["Control","Pearl","Blue","Red"],"range":["#000000","#000000","#1111ee","#e81616"]},"legend":null},
    "strokeDash":{"field":"series","type":"nominal","scale":{"domain":["Control","Pearl","Blue","Red"],"range":[[14,9],[1,0],[1,0],[1,0]]},"legend":null}
   }},
  {"data":{"values":[]},"mark":{"type":"point","opacity":0},
   "encoding":{
    "x":{"field":"date","type":"temporal","scale":{"domain":[{"year":2019,"month":6,"date":1},{"year":2019,"month":9,"date":11,"hours":2}],"nice":false},"axis":{"orient":"bottom","values":[{"year":2019,"month":6,"date":1},{"year":2019,"month":7,"date":1},{"year":2019,"month":8,"date":1},{"year":2019,"month":9,"date":1}],"labels":false,"tickSize":-19,"title":null}},
    "y":{"field":"value","type":"quantitative","scale":{"domain":[0.1,0.2],"nice":false,"zero":false},"axis":{"orient":"left","values":[0.12,0.15,0.18],"labels":false,"tickSize":-21,"title":null}}
   }},
  {"data":{"values":[]},"mark":{"type":"point","opacity":0},
   "encoding":{
    "x":{"field":"date","type":"temporal","scale":{"domain":[{"year":2019,"month":6,"date":1},{"year":2019,"month":9,"date":11,"hours":2}],"nice":false},"axis":{"orient":"bottom","values":[{"year":2019,"month":6,"date":15},{"year":2019,"month":6,"date":29},{"year":2019,"month":7,"date":15},{"year":2019,"month":7,"date":29},{"year":2019,"month":8,"date":15},{"year":2019,"month":8,"date":29}],"labels":false,"tickSize":-9.5,"title":null}},
    "y":{"field":"value","type":"quantitative","scale":{"domain":[0.1,0.2],"nice":false,"zero":false},"axis":{"orient":"left","values":[0.105,0.135,0.165,0.195],"labels":false,"tickSize":-10.5,"title":null}}
   }},
  {"data":{"values":[]},"mark":{"type":"point","opacity":0},
   "encoding":{
    "x":{"field":"date","type":"temporal","scale":{"domain":[{"year":2019,"month":6,"date":1},{"year":2019,"month":9,"date":11,"hours":2}],"nice":false},"axis":{"orient":"top","values":[{"year":2019,"month":6,"date":1},{"year":2019,"month":7,"date":1},{"year":2019,"month":8,"date":1},{"year":2019,"month":9,"date":1}],"labels":false,"tickSize":-19,"title":null}},
    "y":{"field":"value","type":"quantitative","scale":{"domain":[0.1,0.2],"nice":false,"zero":false},"axis":{"orient":"right","values":[0.12,0.15,0.18],"labels":false,"tickSize":-21,"title":null}}
   }},
  {"data":{"values":[]},"mark":{"type":"point","opacity":0},
   "encoding":{
    "x":{"field":"date","type":"temporal","scale":{"domain":[{"year":2019,"month":6,"date":1},{"year":2019,"month":9,"date":11,"hours":2}],"nice":false},"axis":{"orient":"top","values":[{"year":2019,"month":6,"date":15},{"year":2019,"month":6,"date":29},{"year":2019,"month":7,"date":15},{"year":2019,"month":7,"date":29},{"year":2019,"month":8,"date":15},{"year":2019,"month":8,"date":29}],"labels":false,"tickSize":-9.5,"title":null}},
    "y":{"field":"value","type":"quantitative","scale":{"domain":[0.1,0.2],"nice":false,"zero":false},"axis":{"orient":"right","values":[0.105,0.135,0.165,0.195],"labels":false,"tickSize":-10.5,"title":null}}
   }},
  {"data":{"values":[{"date":"2019-09-08T02:00","value":0.1107,"label":"16\" depth"}]},
   "mark":{"type":"text","align":"right","baseline":"alphabetic","fontSize":53,"font":"Liberation Sans","color":"#000000"},
   "encoding":{
    "x":{"field":"date","type":"temporal","scale":{"domain":[{"year":2019,"month":6,"date":1},{"year":2019,"month":9,"date":11,"hours":2}],"nice":false},"axis":null},
    "y":{"field":"value","type":"quantitative","scale":{"domain":[0.1,0.2],"nice":false,"zero":false},"axis":null},
    "text":{"field":"label","type":"nominal"}
   }}
 ]
},
{
 "width":1073,"height":756,
 "resolve":{"axis":{"x":"independent","y":"independent"}},
 "layer":[
  {"data":{"name":"d8"},
   "mark":{"type":"line","strokeWidth":3.5,"strokeJoin":"round","invalid":"break-paths-show-domains"},
   "encoding":{
    "x":{"field":"date","type":"temporal","scale":{"domain":[{"year":2019,"month":6,"date":1},{"year":2019,"month":9,"date":11,"hours":2}],"nice":false},"axis":{"orient":"bottom","values":[{"year":2019,"month":6,"date":1},{"year":2019,"month":7,"date":1},{"year":2019,"month":8,"date":1},{"year":2019,"month":9,"date":1}],"format":"%b %-d","ticks":false,"tickSize":0,"labelPadding":21,"title":"Date","titleY":98,"titleBaseline":"top"}},
    "y":{"field":"value","type":"quantitative","scale":{"domain":[0.1,0.2],"nice":false,"zero":false},"axis":{"orient":"left","values":[0.12,0.15,0.18],"format":".2f","ticks":false,"tickSize":0,"labelPadding":24,"title":null}},
    "color":{"field":"series","type":"nominal","scale":{"domain":["Control","Pearl","Blue","Red"],"range":["#000000","#000000","#1111ee","#e81616"]},
      "legend":{"orient":"none","legendX":539.5,"legendY":0,"title":" ","titleOrient":"bottom","titleFontSize":30,"titlePadding":7,"fillColor":"#ffffff","strokeColor":"#000000","padding":10,"rowPadding":9,"labelFontSize":53,"labelFont":"Liberation Sans","labelColor":"#000000","labelLimit":400,"symbolType":"M-2.6,0H2.6","symbolSize":2304,"symbolStrokeWidth":3,"symbolOffset":26,"labelOffset":48}},
    "strokeDash":{"field":"series","type":"nominal","scale":{"domain":["Control","Pearl","Blue","Red"],"range":[[14,9],[1,0],[1,0],[1,0]]}}
   }},
  {"data":{"values":[]},"mark":{"type":"point","opacity":0},
   "encoding":{
    "x":{"field":"date","type":"temporal","scale":{"domain":[{"year":2019,"month":6,"date":1},{"year":2019,"month":9,"date":11,"hours":2}],"nice":false},"axis":{"orient":"bottom","values":[{"year":2019,"month":6,"date":1},{"year":2019,"month":7,"date":1},{"year":2019,"month":8,"date":1},{"year":2019,"month":9,"date":1}],"labels":false,"tickSize":-19,"title":null}},
    "y":{"field":"value","type":"quantitative","scale":{"domain":[0.1,0.2],"nice":false,"zero":false},"axis":{"orient":"left","values":[0.12,0.15,0.18],"labels":false,"tickSize":-21,"title":null}}
   }},
  {"data":{"values":[]},"mark":{"type":"point","opacity":0},
   "encoding":{
    "x":{"field":"date","type":"temporal","scale":{"domain":[{"year":2019,"month":6,"date":1},{"year":2019,"month":9,"date":11,"hours":2}],"nice":false},"axis":{"orient":"bottom","values":[{"year":2019,"month":6,"date":15},{"year":2019,"month":6,"date":29},{"year":2019,"month":7,"date":15},{"year":2019,"month":7,"date":29},{"year":2019,"month":8,"date":15},{"year":2019,"month":8,"date":29}],"labels":false,"tickSize":-9.5,"title":null}},
    "y":{"field":"value","type":"quantitative","scale":{"domain":[0.1,0.2],"nice":false,"zero":false},"axis":{"orient":"left","values":[0.105,0.135,0.165,0.195],"labels":false,"tickSize":-10.5,"title":null}}
   }},
  {"data":{"values":[]},"mark":{"type":"point","opacity":0},
   "encoding":{
    "x":{"field":"date","type":"temporal","scale":{"domain":[{"year":2019,"month":6,"date":1},{"year":2019,"month":9,"date":11,"hours":2}],"nice":false},"axis":null},
    "y":{"field":"value","type":"quantitative","scale":{"domain":[0.1,0.2],"nice":false,"zero":false},"axis":{"orient":"right","values":[0.12,0.15,0.18],"labels":false,"tickSize":-21,"title":null}}
   }},
  {"data":{"values":[]},"mark":{"type":"point","opacity":0},
   "encoding":{
    "x":{"field":"date","type":"temporal","scale":{"domain":[{"year":2019,"month":6,"date":1},{"year":2019,"month":9,"date":11,"hours":2}],"nice":false},"axis":null},
    "y":{"field":"value","type":"quantitative","scale":{"domain":[0.1,0.2],"nice":false,"zero":false},"axis":{"orient":"right","values":[0.105,0.135,0.165,0.195],"labels":false,"tickSize":-10.5,"title":null}}
   }},
  {"data":{"values":[{"date":"2019-09-06T04:00","value":0.1118,"label":"8\" depth"}]},
   "mark":{"type":"text","align":"right","baseline":"alphabetic","fontSize":53,"font":"Liberation Sans","color":"#000000"},
   "encoding":{
    "x":{"field":"date","type":"temporal","scale":{"domain":[{"year":2019,"month":6,"date":1},{"year":2019,"month":9,"date":11,"hours":2}],"nice":false},"axis":null},
    "y":{"field":"value","type":"quantitative","scale":{"domain":[0.1,0.2],"nice":false,"zero":false},"axis":null},
    "text":{"field":"label","type":"nominal"}
   }}
 ]
}
]
}
